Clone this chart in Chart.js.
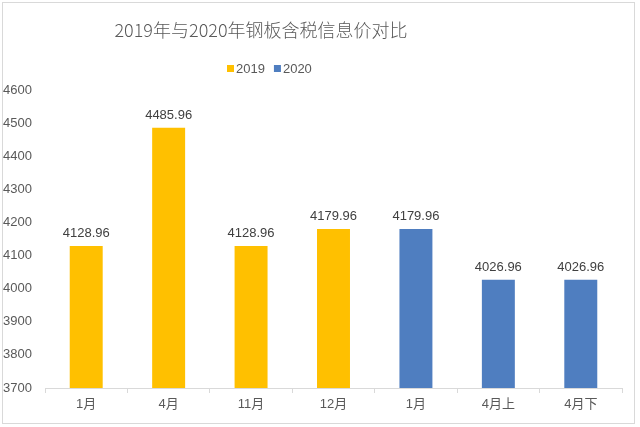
<!DOCTYPE html>
<html><head><meta charset="utf-8">
<script src="https://cdn.jsdelivr.net/npm/chart.js@4/dist/chart.umd.min.js"></script>
<style>html,body{margin:0;padding:0;background:#fff}#wrap{width:640px;height:427px}</style>
</head><body><div id="wrap"><canvas id="c" width="640" height="427"></canvas></div>
<script>
const categories = ['1月','4月','11月','12月','1月','4月上','4月下'];
const values2019 = [4128.96, 4485.96, 4128.96, 4179.96, null, null, null];
const values2020 = [null, null, null, null, 4179.96, 4026.96, 4026.96];
const seriesNames = ['2019','2020'];
const yTicks = [3700,3800,3900,4000,4100,4200,4300,4400,4500,4600];
const titleText = '2019年与2020年钢板含税信息价对比';
const colors = ['#FFC000','#4F7EC0'];
const fontFam = '"Liberation Sans", Arial, "Noto Sans CJK SC", sans-serif';

const framePlugin = {
  id:'frame',
  beforeDraw(chart){
    const ctx = chart.ctx;
    ctx.save();
    ctx.fillStyle='#fff'; ctx.fillRect(0,0,chart.width,chart.height);
    ctx.strokeStyle='#d9d9d9'; ctx.lineWidth=1;
    ctx.strokeRect(2.5,2.5,632,421);
    // title
    ctx.fillStyle='#595959';
    ctx.font='300 18px "Noto Sans CJK SC", "Liberation Sans", sans-serif';
    ctx.textAlign='center'; ctx.textBaseline='middle';
    ctx.fillText(titleText, 261, 30);
    // legend
    ctx.font='13px '+fontFam;
    ctx.textAlign='left';
    let x = 227;
    seriesNames.forEach((n,i)=>{
      ctx.fillStyle=colors[i];
      ctx.fillRect(x,65,7,7);
      ctx.fillStyle='#595959';
      ctx.fillText(n, x+9, 69);
      x += 9 + ctx.measureText(n).width + 9;
    });
    ctx.restore();
  },
  afterDatasetsDraw(chart){
    const ctx = chart.ctx;
    ctx.save();
    ctx.font='13px '+fontFam;
    ctx.fillStyle='#404040';
    ctx.textAlign='center'; ctx.textBaseline='bottom';
    chart.data.datasets.forEach((ds,di)=>{
      const meta = chart.getDatasetMeta(di);
      meta.data.forEach((el,i)=>{
        const v = ds.data[i];
        if(v==null) return;
        ctx.fillText(v.toFixed(2), el.x, el.y-6);
      });
    });
    ctx.restore();
  }
};

new Chart(document.getElementById('c'), {
  type:'bar',
  data:{
    labels:categories,
    datasets:[
      {label:seriesNames[0], data:values2019, backgroundColor:colors[0]},
      {label:seriesNames[1], data:values2020, backgroundColor:colors[1]}
    ]
  },
  options:{
    responsive:false, animation:false,
    devicePixelRatio:1,
    layout:{padding:{top:90,left:3,right:18,bottom:0}},
    plugins:{legend:{display:false}, title:{display:false}, tooltip:{enabled:false}},
    datasets:{bar:{grouped:false, categoryPercentage:0.4, barPercentage:1}},
    scales:{
      x:{
        grid:{display:true, drawOnChartArea:false, drawTicks:true, tickLength:5, color:'#d9d9d9', offset:true},
        border:{display:true, color:'#d9d9d9'},
        ticks:{color:'#595959', font:{size:13, family:fontFam}, padding:4},
        afterFit(s){ s.height = 39; }
      },
      y:{
        min:3700, max:4600,
        afterBuildTicks(s){ s.ticks = yTicks.map(v=>({value:v})); },
        grid:{display:false},
        border:{display:false},
        ticks:{color:'#595959', font:{size:13, family:fontFam}, crossAlign:'far', padding:4,
          callback:(v)=>String(v)},
        afterFit(s){ s.width = 42; }
      }
    }
  },
  plugins:[framePlugin]
});
</script></body></html>
